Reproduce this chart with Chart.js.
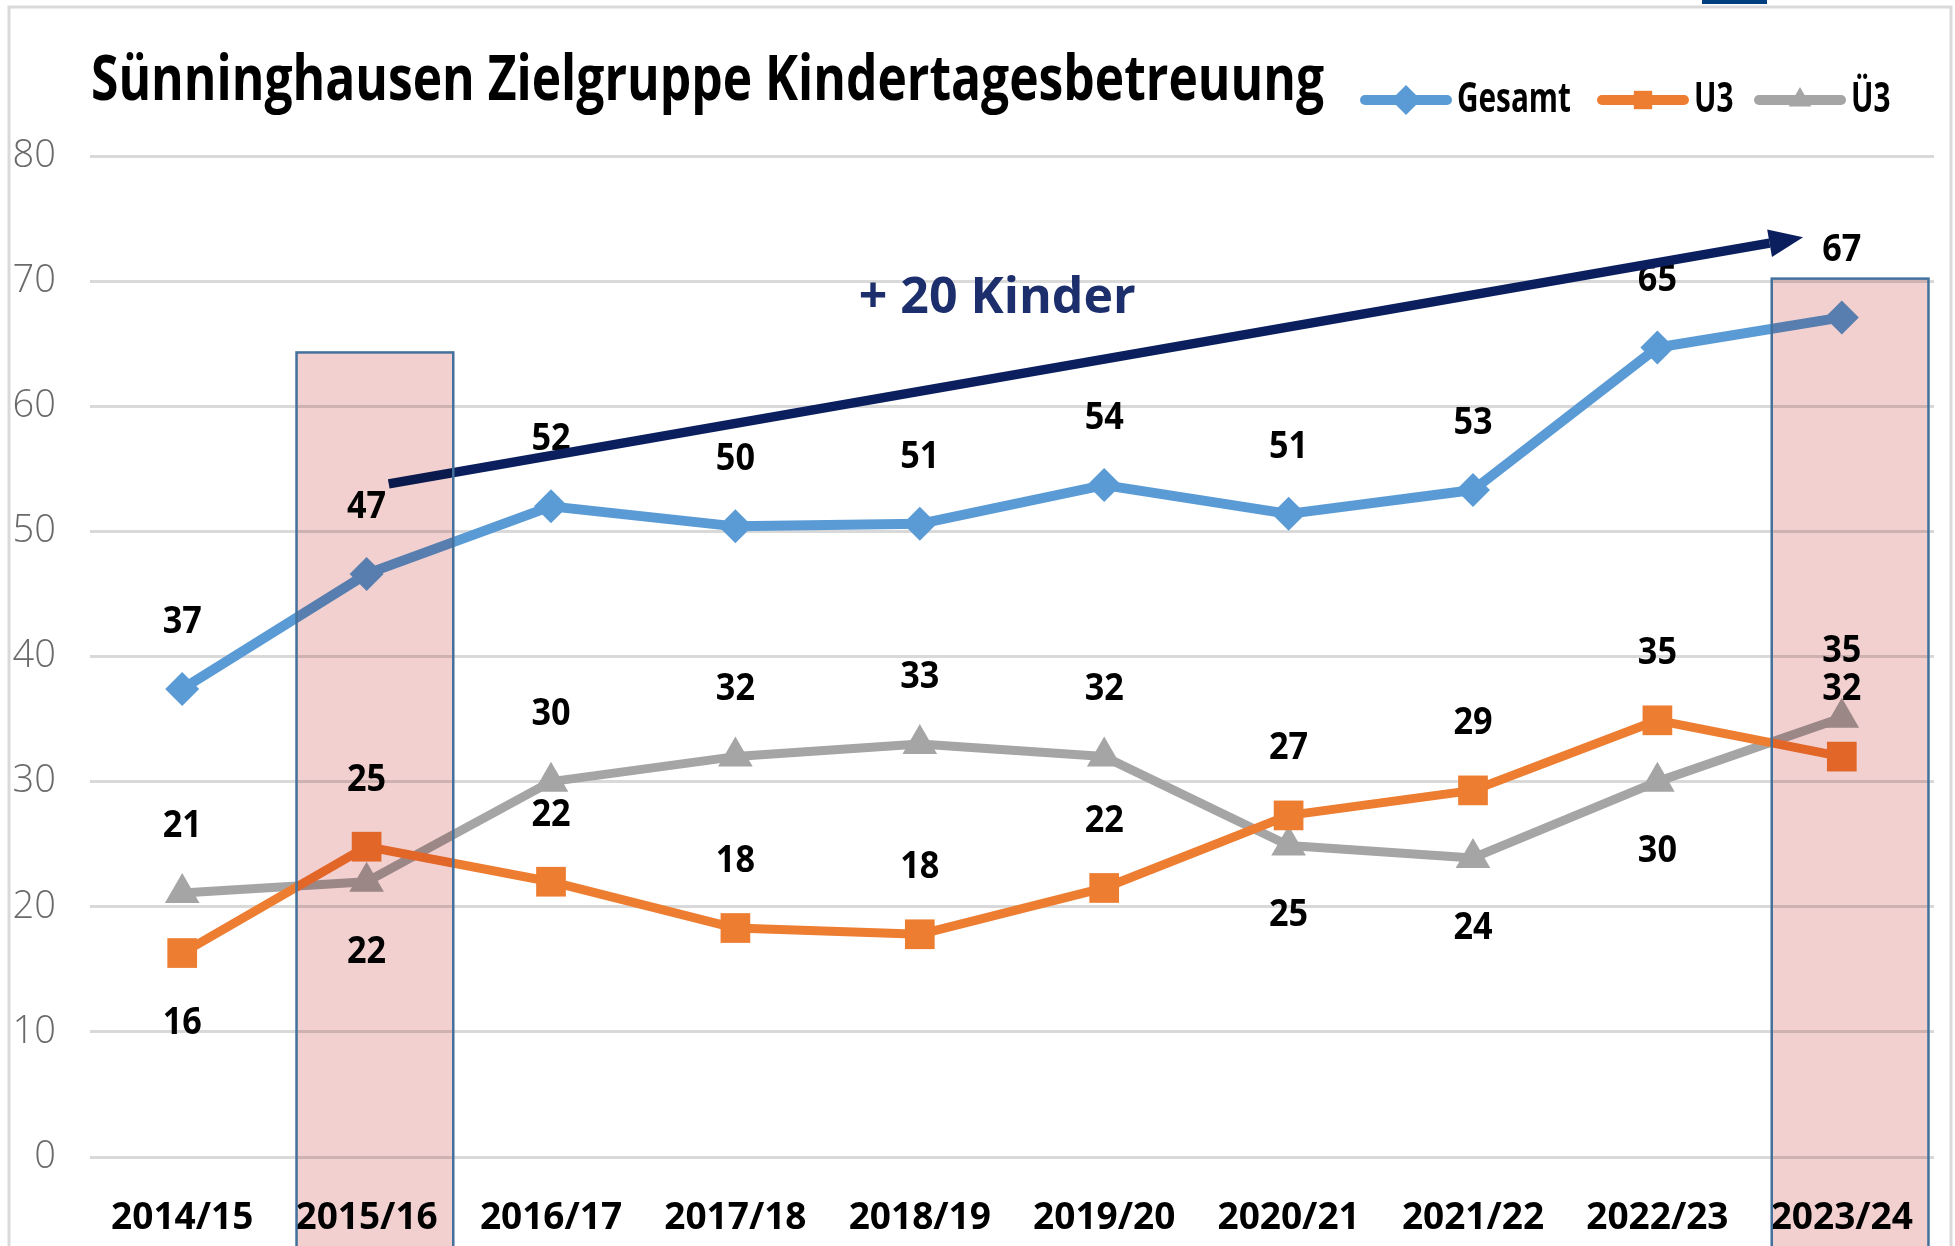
<!DOCTYPE html>
<html>
<head>
<meta charset="utf-8">
<script src="https://cdn.jsdelivr.net/npm/chart.js@4.4.0/dist/chart.umd.min.js"></script>
<style>
  html, body { margin: 0; padding: 0; background: #fff; }
  #wrap { width: 1955px; height: 1246px; position: relative; }
</style>
</head>
<body>
<div id="wrap"><canvas id="chart"></canvas></div>
<script>
// Chart data
const categories = ['2014/15', '2015/16', '2016/17', '2017/18', '2018/19', '2019/20', '2020/21', '2021/22', '2022/23', '2023/24'];
const gesamt = [37.4, 46.6, 52.0, 50.4, 50.6, 53.7, 51.4, 53.3, 64.7, 67.1];
const u3 = [16.3, 24.8, 22.0, 18.3, 17.8, 21.5, 27.3, 29.3, 34.9, 32.0];
const ue3 = [21.1, 22.0, 30.0, 32.0, 33.0, 32.0, 24.9, 23.9, 30.0, 35.1];
const yTicks = [0, 10, 20, 30, 40, 50, 60, 70, 80];
const seriesNames = ['Gesamt', 'U3', 'Ü3'];

// Highlighted years and the value where their box starts
const highlighted = ['2015/16', '2023/24'];
const highlightTop = [64.3, 70.2];

// Trend arrow (category index, value)
const arrowFrom = [1.12, 53.8];
const arrowTo = [8.79, 73.5];
const arrowText = '+ 20 Kinder';
const arrowTextAt = [4.42, 68.6];

// where the value label goes for each point
const gesamtPos = ['a', 'a', 'a', 'a', 'a', 'a', 'a', 'a', 'a', 'a'];
const u3Pos = ['b', 'a', 'a', 'a', 'a', 'a', 'a', 'a', 'a', 'a'];
const ue3Pos = ['a', 'b', 'a', 'a', 'a', 'a', 'b', 'b', 'b', 'a'];

const COLORS = ['#5b9bd5', '#ed7d31', '#a5a5a5'];

// draw text squeezed horizontally
function drawText(ctx, text, x, y, font, sx, align) {
    ctx.save();
    ctx.font = font;
    ctx.textAlign = align || 'center';
    ctx.textBaseline = 'middle';
    ctx.translate(x, y);
    ctx.scale(sx, 1);
    ctx.fillText(text, 0, 0);
    ctx.restore();
}

const decorPlugin = {
    id: 'decor',
    beforeDraw(chart) {
        const ctx = chart.ctx;
        ctx.save();
        ctx.strokeStyle = '#d9d9d9';
        ctx.lineWidth = 3;
        ctx.beginPath();
        ctx.moveTo(9, 1246);
        ctx.lineTo(9, 7);
        ctx.lineTo(1951, 7);
        ctx.lineTo(1951, 1246);
        ctx.stroke();
        ctx.fillStyle = '#003f7f';
        ctx.fillRect(1702, 0, 65, 4);
        ctx.restore();
    },
    afterDatasetsDraw(chart) {
        const ctx = chart.ctx;
        const xs = chart.scales.x, ys = chart.scales.y;
        const positions = [gesamtPos, u3Pos, ue3Pos];
        ctx.save();
        ctx.fillStyle = '#000';
        chart.data.datasets.forEach((ds, di) => {
            const meta = chart.getDatasetMeta(di);
            meta.data.forEach((pt, i) => {
                const above = positions[di][i] === 'a';
                const y = above ? pt.y - 67 : pt.y + 70;
                drawText(ctx, String(Math.round(ds.data[i])), pt.x, y, 'bold 38px "Open Sans"', 0.9);
            });
        });

        // trend arrow
        const x1 = xs.getPixelForValue(arrowFrom[0]), y1 = ys.getPixelForValue(arrowFrom[1]);
        const x2 = xs.getPixelForValue(arrowTo[0]), y2 = ys.getPixelForValue(arrowTo[1]);
        const ang = Math.atan2(y2 - y1, x2 - x1);
        const headLen = 34, headW = 14;
        ctx.strokeStyle = '#0b1f5e';
        ctx.fillStyle = '#0b1f5e';
        ctx.lineWidth = 9.5;
        ctx.beginPath();
        ctx.moveTo(x1, y1);
        ctx.lineTo(x2 - Math.cos(ang) * headLen, y2 - Math.sin(ang) * headLen);
        ctx.stroke();
        ctx.beginPath();
        ctx.moveTo(x2, y2);
        ctx.lineTo(x2 - Math.cos(ang) * headLen - Math.sin(ang) * headW, y2 - Math.sin(ang) * headLen + Math.cos(ang) * headW);
        ctx.lineTo(x2 - Math.cos(ang) * headLen + Math.sin(ang) * headW, y2 - Math.sin(ang) * headLen - Math.cos(ang) * headW);
        ctx.closePath();
        ctx.fill();
        ctx.fillStyle = '#1c2e6b';
        drawText(ctx, arrowText, xs.getPixelForValue(arrowTextAt[0]), ys.getPixelForValue(arrowTextAt[1]), 'bold 50px "Open Sans"', 1);
        ctx.restore();
    },
    afterDraw(chart) {
        const ctx = chart.ctx;
        const xs = chart.scales.x, ys = chart.scales.y;
        const cw = xs.getPixelForValue(1) - xs.getPixelForValue(0);

        // title
        ctx.save();
        ctx.fillStyle = '#000';
        ctx.font = 'bold 62px "Open Sans"';
        const tw = ctx.measureText('Sünninghausen Zielgruppe Kindertagesbetreuung').width;
        ctx.textBaseline = 'alphabetic';
        ctx.translate(91, 100);
        ctx.scale(1233 / tw, 1);
        ctx.fillText('Sünninghausen Zielgruppe Kindertagesbetreuung', 0, 0);
        ctx.restore();

        // legend
        ctx.save();
        ctx.font = 'bold 42px "Open Sans"';
        const lsx = 114 / ctx.measureText('Gesamt').width;
        const legX = [1360, 1597, 1754];
        const legY = 100;
        const styles = ['rectRot', 'rect', 'triangle'];
        seriesNames.forEach((name, i) => {
            ctx.strokeStyle = COLORS[i];
            ctx.lineWidth = 10;
            ctx.lineCap = 'round';
            ctx.beginPath();
            ctx.moveTo(legX[i] + 5, legY);
            ctx.lineTo(legX[i] + 87, legY);
            ctx.stroke();
            ctx.fillStyle = COLORS[i];
            Chart.helpers.drawPoint(ctx, { pointStyle: styles[i], radius: i === 0 ? 15 : 13, borderWidth: 0 }, legX[i] + 46, legY);
            ctx.fillStyle = '#000';
            drawText(ctx, name, legX[i] + 97, legY, 'bold 42px "Open Sans"', lsx, 'left');
        });
        ctx.restore();

        // highlight boxes (multiplied over everything)
        highlighted.forEach((cat, k) => {
            const cx = xs.getPixelForValue(categories.indexOf(cat));
            const left = cx - 0.38 * cw, right = cx + 0.47 * cw;
            const top = ys.getPixelForValue(highlightTop[k]);
            ctx.save();
            ctx.globalCompositeOperation = 'multiply';
            ctx.fillStyle = '#f2d0d0';
            ctx.fillRect(left, top, right - left, 1260 - top);
            ctx.restore();
            ctx.save();
            ctx.strokeStyle = '#41719c';
            ctx.lineWidth = 2.5;
            ctx.strokeRect(left, top, right - left, 1300 - top);
            ctx.restore();
        });
    }
};

const ctx = document.getElementById('chart').getContext('2d');

function makeSet(label, data, color, style, radius, width) {
    return {
        label: label,
        data: data,
        borderColor: color,
        backgroundColor: color,
        borderWidth: width,
        borderCapStyle: 'round',
        borderJoinStyle: 'round',
        pointStyle: style,
        pointRadius: radius,
        pointBorderWidth: 0,
        pointBackgroundColor: color,
        tension: 0
    };
}

new Chart(ctx, {
    type: 'line',
    data: {
        labels: categories,
        datasets: [
            makeSet(seriesNames[0], gesamt, COLORS[0], 'rectRot', 17, 10),
            makeSet(seriesNames[1], u3, COLORS[1], 'rect', 21, 9),
            makeSet(seriesNames[2], ue3, COLORS[2], 'triangle', 20, 9)
        ]
    },
    options: {
        responsive: true,
        maintainAspectRatio: false,
        animation: false,
        layout: {
            padding: { top: 156, right: 19, bottom: 0, left: 0 }
        },
        plugins: {
            legend: { display: false },
            title: { display: false },
            tooltip: { enabled: false }
        },
        scales: {
            x: {
                offset: true,
                grid: { display: false, drawTicks: false },
                border: { display: false },
                ticks: {
                    padding: 39,
                    color: '#000',
                    font: { family: 'Open Sans', weight: 'bold', size: 37 },
                    maxRotation: 0,
                    autoSkip: false
                },
                afterFit: function(scale) { scale.height = 89; }
            },
            y: {
                min: 0,
                max: 80,
                afterBuildTicks: function(scale) {
                    scale.ticks = yTicks.map(v => ({ value: v }));
                },
                grid: { color: '#d9d9d9', lineWidth: 3, drawTicks: false },
                border: { display: false },
                ticks: {
                    padding: 34,
                    color: '#6a6a6a',
                    font: { family: 'Open Sans', weight: '300', size: 38 }
                },
                afterFit: function(scale) { scale.width = 90; }
            }
        }
    },
    plugins: [decorPlugin]
});
</script>
</body>
</html>
